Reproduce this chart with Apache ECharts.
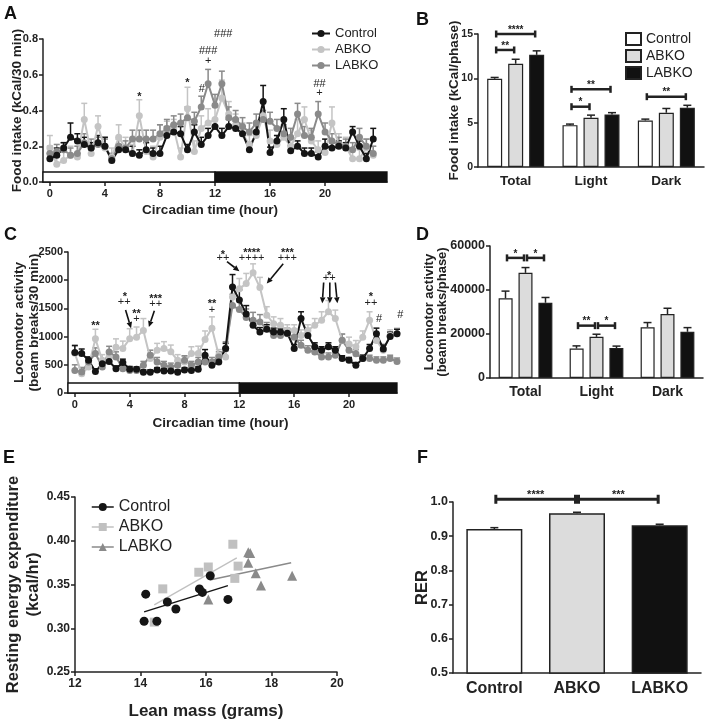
<!DOCTYPE html>
<html><head><meta charset="utf-8">
<script src="https://cdn.jsdelivr.net/npm/echarts@6/dist/echarts.min.js"></script>
<style>html,body{margin:0;padding:0;background:#fff}#c{width:709px;height:723px}</style>
</head><body><div id="c"></div>
<script>
// ---------- DATA ----------
const hours = [0,0.5,1,1.5,2,2.5,3,3.5,4,4.5,5,5.5,6,6.5,7,7.5,8,8.5,9,9.5,10,10.5,11,11.5,12,12.5,13,13.5,14,14.5,15,15.5,16,16.5,17,17.5,18,18.5,19,19.5,20,20.5,21,21.5,22,22.5,23,23.5];
const hourTicks = [0,4,8,12,16,20];
const groupNames = ['Control','ABKO','LABKO'];

// Panel A: food intake (kCal/30 min)
const foodControl = [0.13,0.15,0.19,0.25,0.23,0.21,0.19,0.22,0.20,0.12,0.18,0.18,0.16,0.15,0.18,0.16,0.16,0.26,0.28,0.27,0.18,0.28,0.21,0.26,0.31,0.26,0.31,0.30,0.27,0.18,0.28,0.45,0.165,0.23,0.35,0.175,0.20,0.16,0.16,0.14,0.20,0.19,0.20,0.19,0.28,0.20,0.13,0.24];
const foodControlErr = [0.03,0.04,0.03,0.08,0.04,0.04,0.03,0.04,0.05,0.03,0.03,0.02,0.04,0.03,0.04,0.03,0.04,0.05,0.04,0.04,0.03,0.04,0.04,0.04,0.04,0.04,0.04,0.04,0.04,0.03,0.04,0.09,0.03,0.03,0.06,0.03,0.03,0.03,0.03,0.03,0.04,0.03,0.03,0.03,0.03,0.03,0.03,0.06];
const foodABKO = [0.19,0.10,0.12,0.15,0.14,0.35,0.16,0.31,0.19,0.14,0.25,0.19,0.16,0.37,0.17,0.14,0.25,0.28,0.30,0.14,0.41,0.17,0.30,0.33,0.35,0.47,0.38,0.32,0.27,0.21,0.26,0.37,0.23,0.21,0.25,0.20,0.27,0.35,0.23,0.18,0.165,0.33,0.21,0.20,0.13,0.13,0.19,0.15];
const foodABKOErr = [0.07,0.04,0.05,0.05,0.06,0.09,0.05,0.06,0.06,0.05,0.07,0.06,0.05,0.09,0.06,0.06,0.07,0.06,0.05,0.05,0.12,0.06,0.07,0.08,0.07,0.10,0.07,0.06,0.06,0.05,0.06,0.08,0.06,0.05,0.06,0.05,0.08,0.07,0.06,0.05,0.05,0.09,0.06,0.05,0.05,0.05,0.05,0.05];
const foodLABKO = [0.16,0.17,0.18,0.15,0.16,0.22,0.19,0.21,0.20,0.13,0.20,0.19,0.24,0.24,0.24,0.24,0.27,0.30,0.32,0.33,0.36,0.34,0.42,0.55,0.43,0.55,0.36,0.35,0.31,0.28,0.33,0.35,0.34,0.30,0.27,0.25,0.38,0.26,0.25,0.38,0.28,0.23,0.21,0.20,0.18,0.25,0.20,0.16];
const foodLABKOErr = [0.04,0.04,0.04,0.04,0.04,0.05,0.05,0.04,0.04,0.03,0.04,0.04,0.05,0.05,0.05,0.05,0.05,0.05,0.05,0.05,0.06,0.05,0.06,0.08,0.06,0.07,0.06,0.05,0.05,0.05,0.05,0.05,0.05,0.05,0.05,0.05,0.06,0.05,0.05,0.07,0.05,0.04,0.04,0.04,0.04,0.05,0.04,0.04];
const foodMarks = [[6.5,0.49],[10,0.57],[11.05,0.52],[11.5,0.675],[11.5,0.735],[12.6,0.83],[19.6,0.55],[19.6,0.50]];
const foodMarkText = ['*','*','#','+','###','###','##','+'];
const phasesA = [[-0.5,12,0],[12,24.5,1]];

// Panel B: food intake per phase
const phaseCats = ['Total','Light','Dark'];
const bControl = [9.95,4.72,5.25];
const bControlErr = [0.15,0.12,0.15];
const bABKO = [11.65,5.55,6.12];
const bABKOErr = [0.5,0.3,0.48];
const bLABKO = [12.65,5.93,6.69];
const bLABKOErr = [0.45,0.2,0.27];
const bBrackets = [[0,0,0,2,15.0],[0,0,0,1,13.2],[1,0,1,2,8.76],[1,0,1,1,6.8],[2,0,2,2,7.93]];
const bBracketText = ['****','**','**','*','**'];

// Panel C: locomotor activity (beam breaks/30 min)
const actControl = [720,700,580,380,520,560,430,540,420,420,370,370,410,390,390,370,410,400,420,670,490,550,790,1880,1650,1400,1200,1080,1130,1080,1080,1060,790,1320,1020,820,760,820,760,610,580,490,610,790,1050,780,1000,1050];
const actControlErr = [120,80,60,50,60,60,50,60,50,40,40,40,40,40,40,40,40,40,50,100,50,60,90,220,180,150,100,80,80,70,70,70,70,120,90,70,60,70,60,50,50,50,60,70,100,70,80,80];
const actABKO = [705,340,460,960,580,640,810,790,960,990,1110,610,760,790,730,580,550,700,700,950,1150,670,640,1700,1850,1940,2130,1870,1380,1230,1200,1110,1110,1020,1110,1200,1290,1440,1320,930,870,820,990,1290,930,760,1020,1050];
const actABKOErr = [150,100,80,170,100,100,150,130,180,180,210,100,120,120,120,100,100,120,130,150,200,100,100,200,180,180,160,180,150,120,120,100,100,100,100,120,150,200,150,120,120,110,110,150,120,110,100,100];
const actLABKO = [400,373,550,700,460,728,640,430,400,400,490,669,550,490,460,490,580,490,550,550,550,640,787,1550,1480,1340,1290,1260,1140,1020,1020,1050,990,845,757,728,640,640,670,934,757,698,610,610,580,580,610,560];
const actLABKOErr = [100,80,80,100,80,100,90,70,60,60,70,90,80,70,70,70,80,70,80,80,80,90,120,200,180,150,140,130,110,100,100,100,100,90,80,80,70,70,80,110,80,70,60,60,60,60,60,60];
const actMarks = [[1.5,1250],[3.65,1750],[3.6,1620],[4.5,1460],[4.5,1310],[5.9,1715],[5.9,1570],[10,1640],[10,1480],[10.8,2500],[10.8,2390],[12.9,2540],[12.9,2400],[15.5,2540],[15.5,2400],[18.55,2130],[18.55,2040],[21.6,1750],[21.6,1600],[22.2,1320],[23.75,1380]];
const actMarkText = ['**','*','++','**','+','***','++','**','+','*','++','****','++++','***','+++','*','++','*','++','#','#'];
const actArrows = [[3.7,1470,4.1,1150],[5.8,1460,5.4,1170],[11.1,2330,12.0,2160],[15.2,2290,14.0,1940],[18.15,1960,18.05,1590],[18.6,1960,18.6,1590],[19.0,1960,19.15,1590]];
const phasesC = [[-0.5,12,0],[12,23.5,1]];

// Panel D: locomotor activity per phase
const dControl = [36200,13400,23100];
const dControlErr = [3300,1200,2100];
const dABKO = [47800,18700,29100];
const dABKOErr = [2400,1200,2600];
const dLABKO = [34200,13600,21000];
const dLABKOErr = [2400,900,1900];
const dBrackets = [[0,0,0,1,54600],[0,1,0,2,54600],[1,0,1,1,23800],[1,1,1,2,23800]];
const dBracketText = ['*','*','**','*'];

// Panel E: resting energy expenditure vs lean mass
const eControl = [[14.11,0.308],[14.16,0.339],[14.5,0.308],[14.82,0.330],[15.08,0.322],[15.8,0.345],[15.89,0.341],[16.13,0.360],[16.67,0.333]];
const eABKO = [[14.42,0.307],[14.68,0.345],[15.78,0.364],[16.07,0.370],[16.82,0.396],[16.98,0.371],[16.88,0.357]];
const eLABKO = [[16.07,0.333],[17.29,0.387],[17.35,0.386],[17.29,0.375],[17.52,0.363],[17.68,0.349],[18.63,0.360]];
const eControlFit = [[14.11,0.3187],[16.67,0.3487]];
const eABKOFit = [[14.42,0.3267],[16.94,0.3805]];
const eLABKOFit = [[16.11,0.3551],[18.6,0.3749]];

// Panel F: RER
const rerCats = ['Control','ABKO','LABKO'];
const rerValues = [0.921,0.967,0.932];
const rerErr = [0.004,0.003,0.003];
const fBrackets = [[0,0,1,0,1.008],[1,0,2,0,1.008]];
const fBracketText = ['****','***'];

// ---------- STYLE ----------
const FONT = '"Liberation Sans", Arial, Helvetica, sans-serif';
const AX = '#222';
const COL = {Control:'#151515', ABKO:'#c4c4c4', LABKO:'#8a8a8a'};
const BARFILL = ['#ffffff','#dcdcdc','#111111'];

function axisLineStyle(){ return {show:true, onZero:false, lineStyle:{color:AX, width:1.5}}; }
function tick(show, extra){ return Object.assign({show:show, length:4, lineStyle:{color:AX, width:1.5}}, extra||{}); }
function lbl(size, extra){ return Object.assign({color:'#222', fontFamily:FONT, fontWeight:'bold', fontSize:size}, extra||{}); }
function nameStyle(size, extra){ return Object.assign({color:'#222', fontFamily:FONT, fontWeight:'bold', fontSize:size}, extra||{}); }

function pairs(xs, ys){ return xs.map((x,i)=>[x, ys[i]]); }
function triples(xs, ys, es){ return xs.map((x,i)=>[x, ys[i], es[i]]); }

function errLineSeries(ai, data, color, capHalf, lw, z){
  return {type:'custom', xAxisIndex:ai, yAxisIndex:ai, data:data, silent:true, z:z||1, encode:{x:0,y:1},
    renderItem:function(p, api){
      const x=api.value(0), y=api.value(1), e=api.value(2);
      const a=api.coord([x,y]), b=api.coord([x,y+e]);
      return {type:'group', children:[
        {type:'line', shape:{x1:a[0],y1:a[1],x2:b[0],y2:b[1]}, style:{stroke:color,lineWidth:lw}},
        {type:'line', shape:{x1:b[0]-capHalf,y1:b[1],x2:b[0]+capHalf,y2:b[1]}, style:{stroke:color,lineWidth:lw}}]};
    }};
}
function barErrSeries(ai, means, errs, offset, capHalf){
  const data = means.map((m,i)=>[i, m, errs[i]]);
  return {type:'custom', xAxisIndex:ai, yAxisIndex:ai, data:data, silent:true, z:1, encode:{x:0,y:1},
    renderItem:function(p, api){
      const a=api.coord([api.value(0), api.value(1)]), b=api.coord([api.value(0), api.value(1)+api.value(2)]);
      const x=a[0]+offset;
      return {type:'group', children:[
        {type:'line', shape:{x1:x,y1:a[1],x2:x,y2:b[1]}, style:{stroke:AX,lineWidth:1.5}},
        {type:'line', shape:{x1:x-capHalf,y1:b[1],x2:x+capHalf,y2:b[1]}, style:{stroke:AX,lineWidth:1.5}}]};
    }};
}
function bracketSeries(ai, data, texts, offsets, capH, lw, font){
  return {type:'custom', xAxisIndex:ai, yAxisIndex:ai, data:data, silent:true, z:5, encode:{x:0,y:4},
    renderItem:function(p, api){
      const y=api.value(4);
      const c1=api.coord([api.value(0), y]), c2=api.coord([api.value(2), y]);
      const x1=c1[0]+offsets[api.value(1)]+1.5, x2=c2[0]+offsets[api.value(3)]-1.5, yy=c1[1];
      const st={stroke:AX, lineWidth:lw};
      return {type:'group', children:[
        {type:'line', shape:{x1:x1,y1:yy,x2:x2,y2:yy}, style:st},
        {type:'line', shape:{x1:x1,y1:yy-capH,x2:x1,y2:yy+capH}, style:st},
        {type:'line', shape:{x1:x2,y1:yy-capH,x2:x2,y2:yy+capH}, style:st},
        {type:'text', x:(x1+x2)/2, y:yy+1, style:{text:texts[p.dataIndex], fill:'#222', font:font, align:'center', verticalAlign:'bottom', textAlign:'center', textVerticalAlign:'bottom'}}]};
    }};
}
function noteSeries(ai, data, texts, size){
  return {type:'custom', xAxisIndex:ai, yAxisIndex:ai, data:data, silent:true, z:6, encode:{x:0,y:1},
    renderItem:function(p, api){
      const c=api.coord([api.value(0), api.value(1)]);
      const t=texts[p.dataIndex];
      const star=/^\*+$/.test(t);
      return {type:'text', x:c[0], y:c[1]+(star?3:0), style:{text:t, fill:'#222', font:(star?'bold ':'')+size+'px '+FONT, align:'center', verticalAlign:'middle', textAlign:'center', textVerticalAlign:'middle'}};
    }};
}
function arrowSeries(ai, data){
  return {type:'custom', xAxisIndex:ai, yAxisIndex:ai, data:data, silent:true, z:6, encode:{x:[0,2],y:[1,3]},
    renderItem:function(p, api){
      const a=api.coord([api.value(0), api.value(1)]), b=api.coord([api.value(2), api.value(3)]);
      const dx=b[0]-a[0], dy=b[1]-a[1], L=Math.sqrt(dx*dx+dy*dy), ux=dx/L, uy=dy/L;
      const hl=6, hw=2.8;
      const bx=b[0]-ux*hl, by=b[1]-uy*hl;
      return {type:'group', children:[
        {type:'line', shape:{x1:a[0],y1:a[1],x2:bx,y2:by}, style:{stroke:'#111',lineWidth:1.6}},
        {type:'polygon', shape:{points:[[b[0],b[1]],[bx-uy*hw,by+ux*hw],[bx+uy*hw,by-ux*hw]]}, style:{fill:'#111'}}]};
    }};
}
function phaseSeries(ai, data){
  return {type:'custom', xAxisIndex:ai, yAxisIndex:ai, data:data, silent:true, z:2, encode:{x:[0,1]},
    renderItem:function(p, api){
      const a=api.coord([api.value(0), 0]), b=api.coord([api.value(1), 0]);
      const dark=api.value(2)===1;
      return {type:'rect', shape:{x:a[0], y:a[1]-10, width:b[0]-a[0], height:10}, style:{fill:dark?'#111':'#fff', stroke:'#111', lineWidth:1.3}};
    }};
}
function lineSeries(name, ai, ys, color){
  return {type:'line', name:name, xAxisIndex:ai, yAxisIndex:ai, data:pairs(hours, ys), symbol:'circle', symbolSize:7, showAllSymbol:true,
    lineStyle:{width:2, color:color}, itemStyle:{color:color}, z:3};
}
function barSeries(name, ai, ys, fill, width, gap){
  return {type:'bar', name:name, xAxisIndex:ai, yAxisIndex:ai, data:ys, barWidth:width, barGap:gap,
    itemStyle:{color:fill, borderColor:AX, borderWidth:1.2}, z:2};
}

const grids = [
  {left:43, top:39, width:344, height:143},   // A
  {left:478, top:34, width:226, height:133},  // B
  {left:68, top:252, width:329, height:141},  // C
  {left:490, top:246, width:213, height:132}, // D
  {left:75, top:497, width:262, height:175},  // E
  {left:453, top:502, width:248, height:171}  // F
];

const xAxes = [
  {gridIndex:0, type:'value', min:-0.5, max:24.5, axisLine:axisLineStyle(), axisTick:tick(true,{customValues:hourTicks}),
   axisLabel:lbl(11,{customValues:hourTicks, margin:6}), splitLine:{show:false},
   name:'Circadian time (hour)', nameLocation:'middle', nameGap:21, nameMoveOverlap:false, nameTextStyle:nameStyle(13.5,{padding:[0,10,0,0]})},
  {gridIndex:1, type:'category', data:phaseCats, axisLine:axisLineStyle(), axisTick:{show:false}, axisLabel:lbl(13.5,{margin:7})},
  {gridIndex:2, type:'value', min:-0.5, max:23.5, axisLine:axisLineStyle(), axisTick:tick(true,{customValues:hourTicks}),
   axisLabel:lbl(11,{customValues:hourTicks, margin:6}), splitLine:{show:false},
   name:'Circadian time (hour)', nameLocation:'middle', nameGap:23, nameMoveOverlap:false, nameTextStyle:nameStyle(13.5,{padding:[0,24,0,0]})},
  {gridIndex:3, type:'category', data:phaseCats, axisLine:axisLineStyle(), axisTick:{show:false}, axisLabel:lbl(14,{margin:7})},
  {gridIndex:4, type:'value', min:12, max:20, interval:2, axisLine:axisLineStyle(), axisTick:tick(true), axisLabel:lbl(12,{margin:6}), splitLine:{show:false},
   name:'Lean mass (grams)', nameLocation:'middle', nameGap:31, nameMoveOverlap:false, nameTextStyle:nameStyle(17)},
  {gridIndex:5, type:'category', data:rerCats, axisLine:axisLineStyle(), axisTick:{show:false}, axisLabel:lbl(16,{margin:8})}
];

const yAxes = [
  {gridIndex:0, type:'value', min:0, max:0.8, interval:0.2, axisLine:axisLineStyle(), axisTick:tick(true), splitLine:{show:false},
   axisLabel:lbl(11,{margin:5, formatter:v=>v.toFixed(1)}),
   name:'Food intake (kCal/30 min)', nameLocation:'middle', nameGap:19, nameMoveOverlap:false, nameTextStyle:nameStyle(13.5)},
  {gridIndex:1, type:'value', min:0, max:15, interval:5, axisLine:axisLineStyle(), axisTick:tick(true), splitLine:{show:false},
   axisLabel:lbl(10.5,{margin:5, formatter:v=>String(v)}),
   name:'Food intake (kCal/phase)', nameLocation:'middle', nameGap:17, nameMoveOverlap:false, nameTextStyle:nameStyle(13.5)},
  {gridIndex:2, type:'value', min:0, max:2500, interval:500, axisLine:axisLineStyle(), axisTick:tick(true), splitLine:{show:false},
   axisLabel:lbl(11,{margin:5, formatter:v=>String(v)}),
   name:'Locomotor activity\n(beam breaks/30 min)', nameLocation:'middle', nameGap:26.5, nameMoveOverlap:false, nameTextStyle:nameStyle(13.5,{lineHeight:15})},
  {gridIndex:3, type:'value', min:0, max:60000, interval:20000, axisLine:axisLineStyle(), axisTick:tick(true), splitLine:{show:false},
   axisLabel:lbl(12.5,{margin:5, formatter:v=>String(v)}),
   name:'Locomotor activity\n(beam breaks/phase)', nameLocation:'middle', nameGap:41.5, nameMoveOverlap:false, nameTextStyle:nameStyle(13,{lineHeight:13})},
  {gridIndex:4, type:'value', min:0.25, max:0.45, interval:0.05, axisLine:axisLineStyle(), axisTick:tick(true), splitLine:{show:false},
   axisLabel:lbl(12,{margin:5, formatter:v=>v.toFixed(2)}),
   name:'Resting energy expenditure\n(kcal/hr)', nameLocation:'middle', nameGap:32, nameMoveOverlap:false, nameTextStyle:nameStyle(16.5,{lineHeight:20})},
  {gridIndex:5, type:'value', min:0.5, max:1.0, interval:0.1, axisLine:axisLineStyle(), axisTick:tick(true), splitLine:{show:false},
   axisLabel:lbl(12.5,{margin:5, formatter:v=>v.toFixed(1)}),
   name:'RER', nameLocation:'middle', nameGap:22.5, nameMoveOverlap:false, nameTextStyle:nameStyle(16.5)}
];

const bOff = [-21, 0, 21];
const dOff = [-20, 0, 20];

const series = [
  // A
  phaseSeries(0, phasesA),
  errLineSeries(0, triples(hours, foodABKO, foodABKOErr), COL.ABKO, 3, 1.5),
  errLineSeries(0, triples(hours, foodLABKO, foodLABKOErr), COL.LABKO, 3, 1.5),
  errLineSeries(0, triples(hours, foodControl, foodControlErr), COL.Control, 3, 1.5),
  lineSeries('A:ABKO', 0, foodABKO, COL.ABKO),
  lineSeries('A:LABKO', 0, foodLABKO, COL.LABKO),
  lineSeries('A:Control', 0, foodControl, COL.Control),
  noteSeries(0, foodMarks, foodMarkText, 11),
  // B
  barSeries('B:Control', 1, bControl, BARFILL[0], 15, '40%'),
  barSeries('B:ABKO', 1, bABKO, BARFILL[1], 15, '40%'),
  barSeries('B:LABKO', 1, bLABKO, BARFILL[2], 15, '40%'),
  barErrSeries(1, bControl, bControlErr, bOff[0], 4),
  barErrSeries(1, bABKO, bABKOErr, bOff[1], 4),
  barErrSeries(1, bLABKO, bLABKOErr, bOff[2], 4),
  bracketSeries(1, bBrackets, bBracketText, bOff, 3.5, 2.5, 'bold 10px '+FONT),
  // C
  phaseSeries(2, phasesC),
  errLineSeries(2, triples(hours, actABKO, actABKOErr), COL.ABKO, 3, 1.5),
  errLineSeries(2, triples(hours, actLABKO, actLABKOErr), COL.LABKO, 3, 1.5),
  errLineSeries(2, triples(hours, actControl, actControlErr), COL.Control, 3, 1.5),
  lineSeries('C:ABKO', 2, actABKO, COL.ABKO),
  lineSeries('C:LABKO', 2, actLABKO, COL.LABKO),
  lineSeries('C:Control', 2, actControl, COL.Control),
  noteSeries(2, actMarks, actMarkText, 11),
  arrowSeries(2, actArrows),
  // D
  barSeries('D:Control', 3, dControl, BARFILL[0], 14, '42%'),
  barSeries('D:ABKO', 3, dABKO, BARFILL[1], 14, '42%'),
  barSeries('D:LABKO', 3, dLABKO, BARFILL[2], 14, '42%'),
  barErrSeries(3, dControl, dControlErr, dOff[0], 4),
  barErrSeries(3, dABKO, dABKOErr, dOff[1], 4),
  barErrSeries(3, dLABKO, dLABKOErr, dOff[2], 4),
  bracketSeries(3, dBrackets, dBracketText, dOff, 3.5, 2.5, 'bold 10px '+FONT),
  // E
  {type:'line', name:'E:ControlFit', xAxisIndex:4, yAxisIndex:4, data:eControlFit, symbol:'none', lineStyle:{color:COL.Control, width:1.5}, z:2},
  {type:'line', name:'E:ABKOFit', xAxisIndex:4, yAxisIndex:4, data:eABKOFit, symbol:'none', lineStyle:{color:'#c0c0c0', width:1.3}, z:2},
  {type:'line', name:'E:LABKOFit', xAxisIndex:4, yAxisIndex:4, data:eLABKOFit, symbol:'none', lineStyle:{color:COL.LABKO, width:1.5}, z:2},
  {type:'line', name:'E:ABKO', xAxisIndex:4, yAxisIndex:4, data:eABKO, symbol:'rect', symbolSize:9, showAllSymbol:true, lineStyle:{opacity:0}, itemStyle:{color:'#c0c0c0'}, z:3},
  {type:'line', name:'E:LABKO', xAxisIndex:4, yAxisIndex:4, data:eLABKO, symbol:'triangle', symbolSize:10, showAllSymbol:true, lineStyle:{opacity:0}, itemStyle:{color:COL.LABKO}, z:3},
  {type:'line', name:'E:Control', xAxisIndex:4, yAxisIndex:4, data:eControl, symbol:'circle', symbolSize:9, showAllSymbol:true, lineStyle:{opacity:0}, itemStyle:{color:COL.Control}, z:4},
  // F
  {type:'bar', name:'F:RER', xAxisIndex:5, yAxisIndex:5, barWidth:56,
   data:rerValues.map((v,i)=>({value:v, itemStyle:{color:BARFILL[i]}})), itemStyle:{borderColor:AX, borderWidth:1.5}, z:2},
  barErrSeries(5, rerValues, rerErr, 0, 4),
  bracketSeries(5, fBrackets, fBracketText, [0], 4.5, 3, 'bold 11px '+FONT)
];

const legendText = {color:'#222', fontFamily:FONT, fontSize:13};
const option = {
  animation:false,
  backgroundColor:'#fff',
  title:[
    {text:'A', left:4, top:5},
    {text:'B', left:416, top:11},
    {text:'C', left:4, top:226},
    {text:'D', left:416, top:226},
    {text:'E', left:3, top:449},
    {text:'F', left:417, top:449}
  ].map(t=>Object.assign(t,{padding:0, textStyle:{fontFamily:FONT, fontWeight:'bold', fontSize:18, color:'#111'}})),
  legend:[
    {data:groupNames.map(n=>'A:'+n), formatter:n=>n.slice(2), orient:'vertical', left:306, top:22, itemWidth:18, itemHeight:9, itemGap:3,
     textStyle:Object.assign({}, legendText, {fontSize:13, lineHeight:13}), selectedMode:false},
    {data:groupNames.map(n=>'B:'+n), formatter:n=>n.slice(2), orient:'vertical', left:620, top:27, icon:'rect', itemWidth:15, itemHeight:12, itemGap:3,
     textStyle:Object.assign({}, legendText, {fontSize:14, lineHeight:13}), selectedMode:false},
    {data:groupNames.map(n=>'E:'+n), formatter:n=>n.slice(2), orient:'vertical', left:86, top:494, itemWidth:22, itemHeight:10, itemGap:4,
     lineStyle:{opacity:1, width:1.5}, textStyle:Object.assign({}, legendText, {fontSize:16, lineHeight:16}), selectedMode:false}
  ],
  grid:grids,
  xAxis:xAxes,
  yAxis:yAxes,
  series:series
};

const chart = echarts.init(document.getElementById('c'), null, {renderer:'canvas'});
chart.setOption(option);
</script></body></html>
